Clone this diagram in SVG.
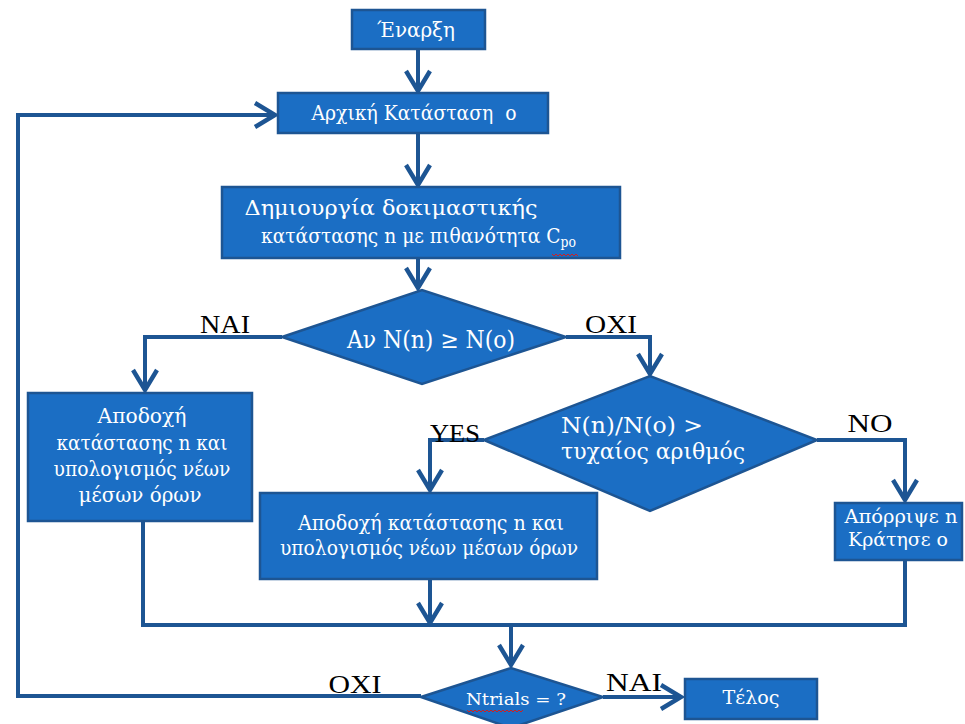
<svg xmlns="http://www.w3.org/2000/svg" width="965" height="724" viewBox="0 0 965 724">
<style>
.n{fill:#1b6ec4;stroke:#1d5593;stroke-width:2.5}
.t{fill:#fff;text-anchor:middle}
.s{fill:#fff;text-anchor:start}
.l{fill:#000;font-size:25px;text-anchor:middle}
.c{fill:none;stroke:#1d5593;stroke-width:4;stroke-linejoin:miter}
.w{fill:none;stroke:#d02020;stroke-width:1}
</style>
<defs>
<marker id="a" markerWidth="8" markerHeight="8" refX="6" refY="4" orient="auto" markerUnits="strokeWidth">
<polyline points="1,1 6,4 1,7" fill="none" stroke="#1d5593" stroke-width="1.1"/>
</marker>
</defs>
<rect width="965" height="724" fill="#fff"/>
<g id="connectors">
<path class="c" d="M418,49 V91" marker-end="url(#a)"/>
<path class="c" d="M418,133 V185" marker-end="url(#a)"/>
<path class="c" d="M418,258 V288" marker-end="url(#a)"/>
<path class="c" d="M282,337 H145 V390" marker-end="url(#a)"/>
<path class="c" d="M566,337 H650 V374" marker-end="url(#a)"/>
<path class="c" d="M484,440 H430 V490" marker-end="url(#a)"/>
<path class="c" d="M817,440 H905 V500" marker-end="url(#a)"/>
<path class="c" d="M143,521 V625 H905 V561"/>
<path class="c" d="M430,579 V623" marker-end="url(#a)"/>
<path class="c" d="M511,625 V665" marker-end="url(#a)"/>
<path class="c" d="M421,696 H18 V115 H275" marker-end="url(#a)"/>
<path class="c" d="M603,697 H681" marker-end="url(#a)"/>
</g>
<g font-family="'DejaVu Serif', 'Liberation Serif', serif">
<g id="start">
<rect class="n" x="352" y="10" width="133" height="39"/>
<text class="t" x="416" y="37" font-size="20" textLength="78" lengthAdjust="spacingAndGlyphs">Έναρξη</text>
</g>
<g id="init">
<rect class="n" x="278" y="93" width="270" height="40"/>
<text class="t" x="414" y="120" font-size="20" textLength="205" lengthAdjust="spacingAndGlyphs" xml:space="preserve">Αρχική Κατάσταση  ο</text>
</g>
<g id="create">
<rect class="n" x="222" y="187" width="398" height="71"/>
<text class="t" x="391" y="215" font-size="21" textLength="293" lengthAdjust="spacingAndGlyphs">Δημιουργία δοκιμαστικής</text>
<text class="s" x="261" y="243" font-size="21" textLength="315" lengthAdjust="spacingAndGlyphs">κατάστασης n με πιθανότητα C<tspan font-size="14" dy="4">po</tspan></text>
<path class="w" d="M552,254 l2,2 l2,-2 l2,2 l2,-2 l2,2 l2,-2 l2,2 l2,-2 l2,2 l2,-2 l2,2 l2,-2 l2,2"/>
</g>
<g id="cond1">
<polygon class="n" points="282,337 422,290 566,337 422,384"/>
<text class="t" x="431" y="348" font-size="24" textLength="168" lengthAdjust="spacingAndGlyphs">Αν N(n) ≥ N(o)</text>
</g>
<g id="acceptL">
<rect class="n" x="28" y="393" width="224" height="128"/>
<text class="t" x="142" y="423" font-size="20" textLength="89" lengthAdjust="spacingAndGlyphs">Αποδοχή</text>
<text class="t" x="142" y="450" font-size="20" textLength="171" lengthAdjust="spacingAndGlyphs">κατάστασης n και</text>
<text class="t" x="142" y="476" font-size="20" textLength="177" lengthAdjust="spacingAndGlyphs">υπολογισμός νέων</text>
<text class="t" x="140" y="502" font-size="20" textLength="123" lengthAdjust="spacingAndGlyphs">μέσων όρων</text>
</g>
<g id="cond2">
<polygon class="n" points="484,440 650,376 817,440 650,511"/>
<text class="s" x="561" y="433" font-size="22" textLength="142" lengthAdjust="spacingAndGlyphs">N(n)/N(o) &gt;</text>
<text class="s" x="561" y="459" font-size="22" textLength="184" lengthAdjust="spacingAndGlyphs">τυχαίος αριθμός</text>
</g>
<g id="acceptM">
<rect class="n" x="260" y="493" width="337" height="86"/>
<text class="t" x="431" y="530" font-size="20" textLength="266" lengthAdjust="spacingAndGlyphs">Αποδοχή κατάστασης n και</text>
<text class="t" x="429" y="555" font-size="20" textLength="298" lengthAdjust="spacingAndGlyphs">υπολογισμός νέων μέσων όρων</text>
</g>
<g id="reject">
<rect class="n" x="835" y="503" width="127" height="57"/>
<text class="t" x="901" y="523" font-size="18" textLength="113" lengthAdjust="spacingAndGlyphs">Απόρριψε n</text>
<text class="t" x="898" y="546" font-size="18" textLength="100" lengthAdjust="spacingAndGlyphs">Κράτησε ο</text>
</g>
<g id="cond3">
<polygon class="n" points="421,697 511,668 603,697 511,728"/>
<text class="t" x="516" y="705" font-size="16" textLength="100" lengthAdjust="spacingAndGlyphs">Ntrials = ?</text>
<path class="w" d="M467,710 l2,2 l2,-2 l2,2 l2,-2 l2,2 l2,-2 l2,2 l2,-2 l2,2 l2,-2 l2,2 l2,-2 l2,2 l2,-2 l2,2 l2,-2 l2,2 l2,-2 l2,2 l2,-2 l2,2 l2,-2 l2,2 l2,-2 l2,2 l2,-2 l2,2 l2,-2"/>
</g>
<g id="end">
<rect class="n" x="685" y="679" width="132" height="40"/>
<text class="t" x="751" y="704" font-size="18" textLength="57" lengthAdjust="spacingAndGlyphs">Τέλος</text>
</g>
<g id="labels" font-family="'Liberation Serif', serif">
<text class="l" x="225" y="333" textLength="50" lengthAdjust="spacingAndGlyphs">NAI</text>
<text class="l" x="611" y="333" textLength="52" lengthAdjust="spacingAndGlyphs">OXI</text>
<text class="l" x="455" y="442" textLength="50" lengthAdjust="spacingAndGlyphs">YES</text>
<text class="l" x="870" y="432" textLength="45" lengthAdjust="spacingAndGlyphs">NO</text>
<text class="l" x="355" y="693" textLength="53" lengthAdjust="spacingAndGlyphs">OXI</text>
<text class="l" x="634" y="691" textLength="56" lengthAdjust="spacingAndGlyphs">NAI</text>
</g>
</g>
</svg>
